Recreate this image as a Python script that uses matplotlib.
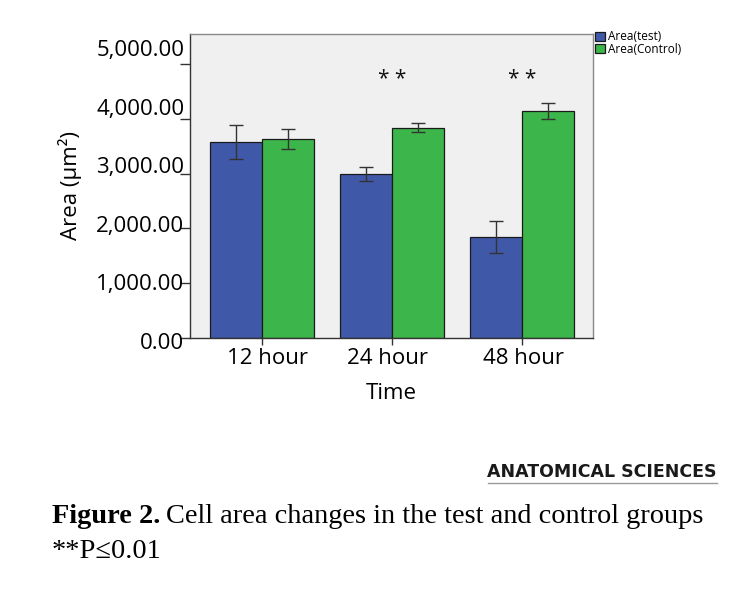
#!/usr/bin/env python3
# Bar chart: cell area in test vs control groups, with SE error bars and caption.
import numpy as np
import matplotlib
matplotlib.use("Agg")
import matplotlib.pyplot as plt
from matplotlib.transforms import ScaledTranslation

groups = ["12 hour", "24 hour", "48 hour"]
area_test = [3570, 2990, 1840]
err_test = [310, 130, 290]
area_ctrl = [3625, 3835, 4135]
err_ctrl = [183, 82, 146]
sig_marks = ["", "* *", "* *"]
yticks = [0, 1000, 2000, 3000, 4000, 5000]

BLUE = "#4058a8"
GREEN = "#3cb54a"
SANS = ["Open Sans", "DejaVu Sans"]
SERIF = ["Liberation Serif", "DejaVu Serif"]

fig = plt.figure(figsize=(7.47, 5.96), dpi=100)
ax = fig.add_axes([0.2544, 0.4329, 0.5394, 0.5101])
ax.set_facecolor("#f0f0f0")

x = np.arange(len(groups)); w = 0.4
ax.bar(x - w/2, area_test, w, color=BLUE, edgecolor="#1a1a1a", lw=0.9, label="Area(test)", zorder=2)
ax.bar(x + w/2, area_ctrl, w, color=GREEN, edgecolor="#1a1a1a", lw=0.9, label="Area(Control)", zorder=2)
ekw = dict(fmt="none", ecolor="#333333", elinewidth=1.0, capsize=5, capthick=1.0, zorder=3)
ax.errorbar(x - w/2, area_test, yerr=err_test, **ekw)
ax.errorbar(x + w/2, area_ctrl, yerr=err_ctrl, **ekw)

for xi, s in zip(x, sig_marks):
    if s:
        ax.text(xi, 4720, s, ha="center", va="center", fontsize=15, family=SANS, color="#111111")

ax.set_xlim(-0.554, 2.546)
ax.set_ylim(0, 5550)
ax.set_xticks(x, groups, family=SANS, fontsize=16)
ax.set_yticks(yticks, [f"{v:,.2f}" for v in yticks], family=SANS, fontsize=16)
ax.tick_params(axis="y", length=7, width=1, pad=-3, color="#333333")
ax.tick_params(axis="x", length=5, width=1, pad=2, color="#333333")

# the tick labels in the reference sit a little off their ticks
for lab, dy in zip(ax.get_yticklabels(), [-3, 1, 4, 9, 12, 16]):
    lab.set_transform(lab.get_transform() + ScaledTranslation(0, dy/100, fig.dpi_scale_trans))
for lab, dx in zip(ax.get_xticklabels(), [5, -5, 1]):
    lab.set_transform(lab.get_transform() + ScaledTranslation(dx/100, 0, fig.dpi_scale_trans))

for s in ["left", "bottom"]:
    ax.spines[s].set_color("#333333"); ax.spines[s].set_linewidth(1.0)
for s in ["top", "right"]:
    ax.spines[s].set_color("#888888"); ax.spines[s].set_linewidth(1.0)

ax.set_xlabel("Time", family=SANS, fontsize=16, labelpad=10)
ax.set_ylabel("Area (\u03bcm\u00b2)", family=SANS, fontsize=16, labelpad=10)

leg = ax.legend(loc="upper left", bbox_to_anchor=(1.0, 1.02), frameon=False,
                prop={"family": SANS, "size": 8.5}, handlelength=0.8, handleheight=0.8,
                handletextpad=0.25, labelspacing=-0.05, borderaxespad=0.1, borderpad=0.1)

# journal caption
fig.text(0.9598, 1-472/596, "ANATOMICAL SCIENCES", ha="right", va="center",
         family="DejaVu Sans", fontweight="bold", fontsize=12.5, color="#1a1a1a")
fig.add_artist(plt.Line2D([488/747, 717/747], [1-483/596, 1-483/596], color="#999999", lw=1))
t1 = fig.text(52/747, 1-523/596, "Figure 2.", ha="left", va="baseline",
              family=SERIF, fontweight="bold", fontsize=20.4)
fig.canvas.draw()
bb = t1.get_window_extent()
fig.text(bb.x1/747 + 6/747, 1-523/596, "Cell area changes in the test and control groups",
         ha="left", va="baseline", family=SERIF, fontsize=20.4)
fig.text(52/747, 1-558/596, "**P\u22640.01", ha="left", va="baseline", family=SERIF, fontsize=20.4)

fig.savefig("out.png", dpi=100)
